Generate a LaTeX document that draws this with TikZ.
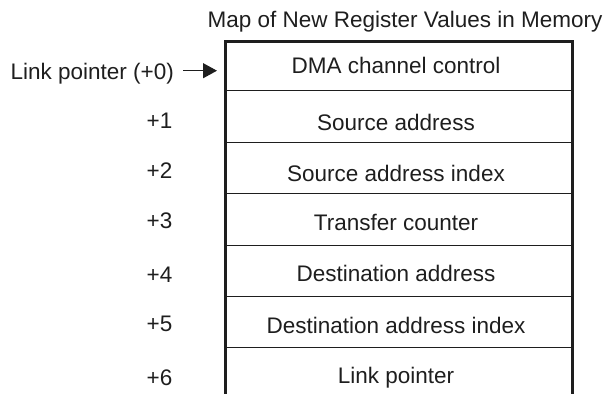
\documentclass[tikz,border=0pt]{standalone}
\usepackage{fontspec}
\setmainfont{Liberation Sans}
\usetikzlibrary{arrows.meta}
\definecolor{ink}{RGB}{30,30,30}
\begin{document}
\begin{tikzpicture}[x=1pt,y=-1pt,
  txt/.style={anchor=base,inner sep=0pt,text=ink,font=\fontsize{22.5}{27}\selectfont},
  frame/.style={draw=ink,line width=3pt},
  divider/.style={draw=ink,line width=1.4pt},
  ptr/.style={draw=ink,line width=1.2pt,-{Triangle[length=14pt,width=15pt]}}]
\useasboundingbox (0,0) rectangle (606,394);
% title
\node[txt] (title) at (405,27.5) {Map of New Register Values in Memory};
% frame (open at bottom)
\draw[frame] (225.5,394) -- (225.5,41.5) -- (572,41.5) -- (572,394);
% dividers
\foreach \y in {90.7,142.5,193.5,245.5,296.7,347.7}
  \draw[divider] (225.5,\y) -- (572,\y);
% row texts
\node[txt] (r0) at (396,73.3) {DMA channel control};
\node[txt] (r1) at (396,130.7) {Source address};
\node[txt] (r2) at (396,181) {Source address index};
\node[txt] (r3) at (396,230.7) {Transfer counter};
\node[txt] (r4) at (396,281.5) {Destination address};
\node[txt] (r5) at (396,333.3) {Destination address index};
\node[txt] (r6) at (396,383.3) {Link pointer};
% offsets
\node[txt] (o1) at (159.5,128.8) {+1};
\node[txt] (o2) at (159.5,178) {+2};
\node[txt] (o3) at (159.5,228) {+3};
\node[txt] (o4) at (159.5,282) {+4};
\node[txt] (o5) at (159.5,331) {+5};
\node[txt] (o6) at (159.5,385) {+6};
% link pointer label and arrow
\node[txt,anchor=base east] (lp) at (174,79) {Link pointer (+0)};
\coordinate (lpend) at (183,70.7);
\coordinate (boxin) at (217,70.7);
\draw[ptr] (lpend) -- (boxin);
\end{tikzpicture}
\end{document}
